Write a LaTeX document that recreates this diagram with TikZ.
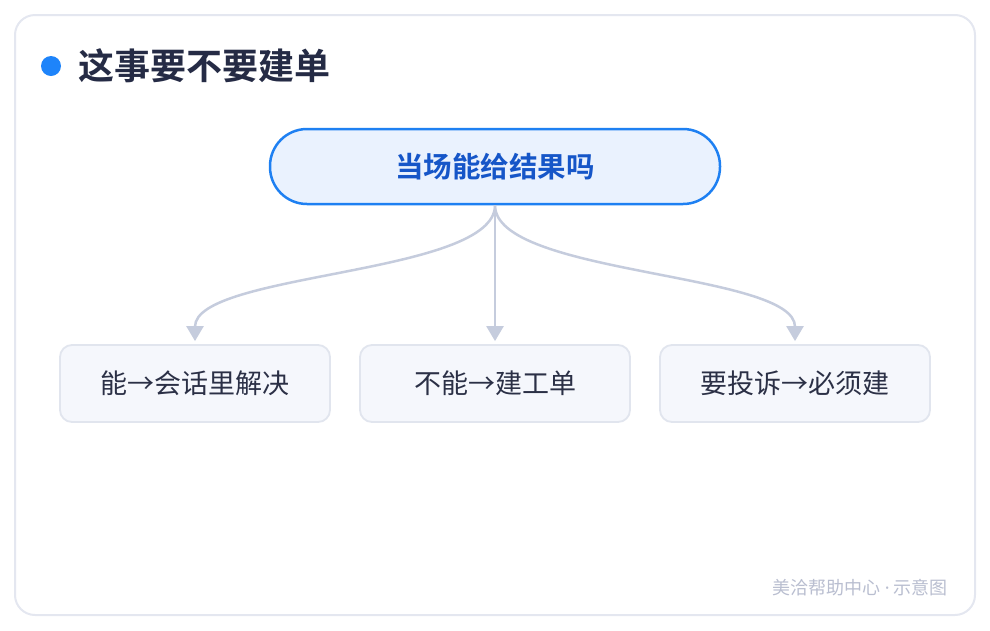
\documentclass[tikz,border=0pt]{standalone}
\usepackage{fontspec}
\setmainfont{Noto Sans CJK SC}
\newfontfamily\cjkbold{Noto Sans CJK SC Bold}
\newfontfamily\latinfont{Noto Sans}
\usetikzlibrary{arrows.meta, positioning}
\definecolor{cardline}{HTML}{E4E7F0}
\definecolor{dotblue}{HTML}{1E84FA}
\definecolor{titleink}{HTML}{252B45}
\definecolor{askfill}{HTML}{EAF2FE}
\definecolor{askline}{HTML}{1E80F2}
\definecolor{askink}{HTML}{1656C8}
\definecolor{leaffill}{HTML}{F5F7FC}
\definecolor{leafline}{HTML}{E1E5EE}
\definecolor{leafink}{HTML}{2B3046}
\definecolor{linkgray}{HTML}{C5CCDD}
\definecolor{footink}{HTML}{B9BED0}

\begin{document}
\begin{tikzpicture}[x=1pt, y=-1pt,
  ask/.style={draw=askline, line width=2.5pt, fill=askfill,
    rounded corners=37pt, minimum width=450pt, minimum height=75pt,
    text=askink, font=\cjkbold\fontsize{28.5}{34}\selectfont},
  leaf/.style={draw=leafline, line width=1.8pt, fill=leaffill,
    rounded corners=12pt, minimum width=270pt, minimum height=77pt,
    text=leafink, font=\fontsize{27}{32}\selectfont},
  link/.style={draw=linkgray, line width=2.5pt,
    -{Triangle[width=17pt,length=15pt]}, shorten >=3pt}]
  \useasboundingbox (0,0) rectangle (990,630);
  % card
  \draw[cardline, line width=2pt, fill=white, rounded corners=20pt]
    (15,15) rectangle (975,615);
  % title
  \fill[dotblue] (51,66) circle (10pt);
  \node[anchor=west, inner sep=0pt, text=titleink,
    font=\cjkbold\fontsize{36}{42}\selectfont] (title) at (78,66) {这事要不要建单};
  % question
  \node[ask] (ask) at (495,166.5) {当场能给结果吗};
  % answers
  \foreach \t [count=\i] in {能→会话里解决, 不能→建工单, 要投诉→必须建}{
    \node[leaf] (leaf-\i) at ({195+300*(\i-1)},383.5) {\t};
  };
  \foreach \i in {1,2,3}{
    \draw[link] (ask.south) .. controls +(0,70) and +(0,-72) .. (leaf-\i.north);
  };
  % footer
  \node[anchor=east, inner sep=0pt, text=footink,
    font=\fontsize{18}{22}\selectfont] (foot) at (948,588) {美洽帮助中心 {\latinfont ·} 示意图};
\end{tikzpicture}
\end{document}
